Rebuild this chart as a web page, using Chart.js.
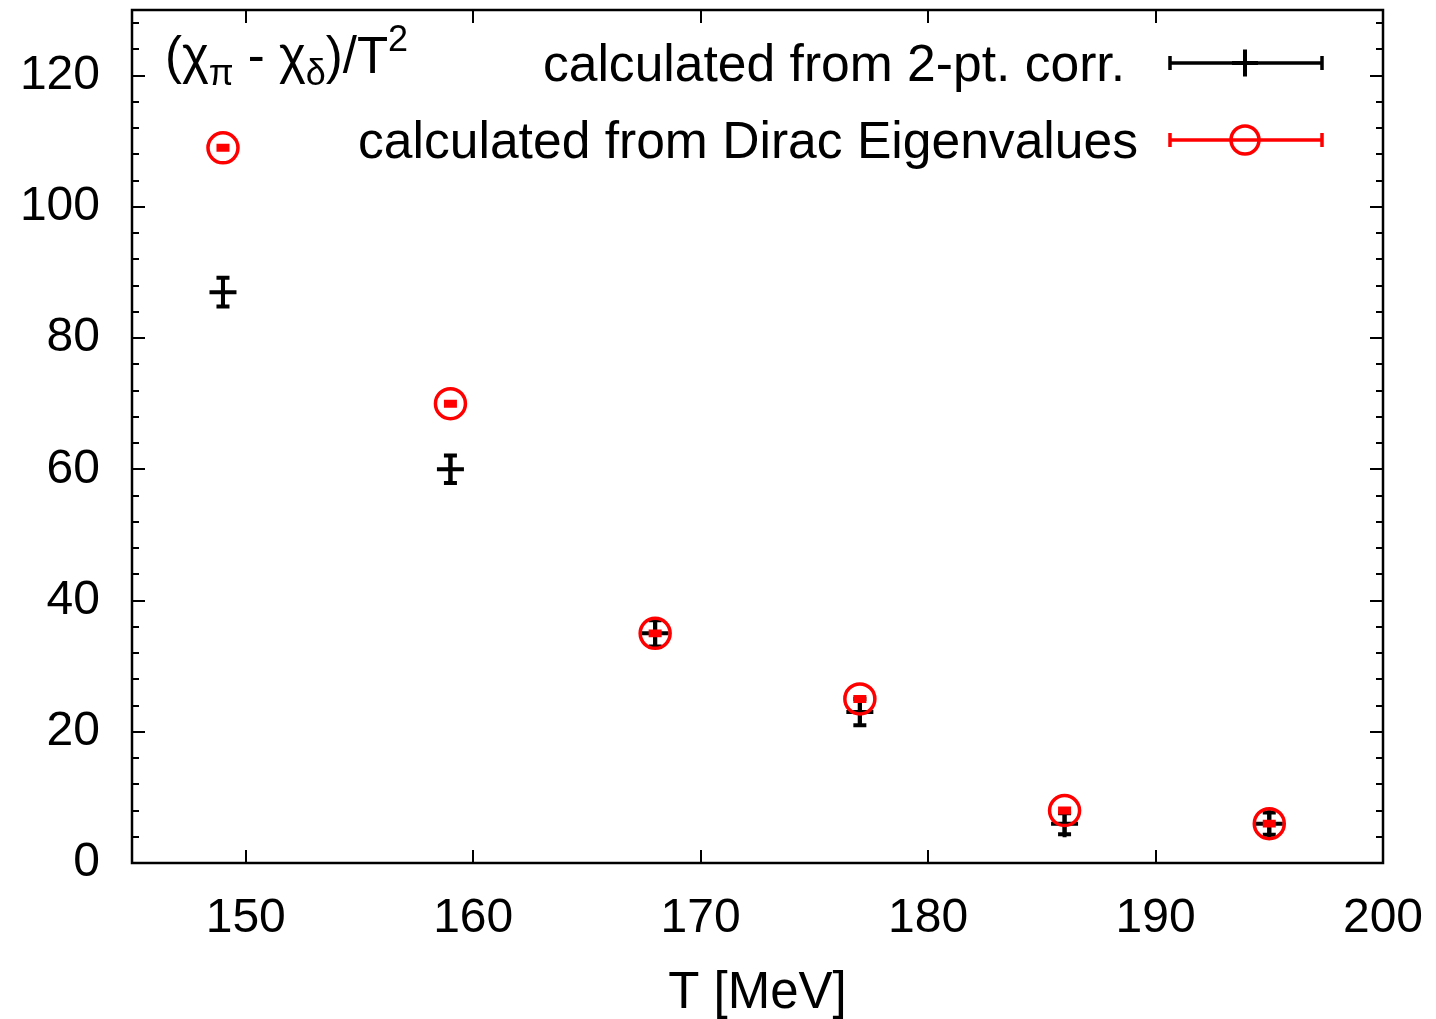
<!DOCTYPE html>
<html><head><meta charset="utf-8">
<script src="https://cdn.jsdelivr.net/npm/chart.js@4/dist/chart.umd.min.js"></script>
<style>html,body{margin:0;padding:0;background:#fff;overflow:hidden}#wrap{width:1436px;height:1019px;position:relative}</style>
</head><body><div id="wrap"><canvas id="c" width="1436" height="1019"></canvas></div>
<script>
const temperatures = [149, 159, 168, 177, 186, 195];
const corrValues = [87, 60, 35, 23, 6, 6];
const corrErrors = [2.2, 2.1, 2.0, 2.0, 1.6, 1.7];
const diracValues = [109, 70, 35, 25, 8, 6];
const diracErrors = [0.3, 0.3, 0.3, 0.3, 0.3, 0.3];
const xTicks = [150, 160, 170, 180, 190, 200];
const yTicks = [0, 20, 40, 60, 80, 100, 120];
const seriesLabels = ['calculated from 2-pt. corr.', 'calculated from Dirac Eigenvalues'];
const xTitle = 'T [MeV]';

const FONT = '"Liberation Sans", Arial, Helvetica, sans-serif';
const RED = '#ff0000';
const BLACK = '#000000';

const corrPts = temperatures.map((t, i) => ({x: t, y: corrValues[i], e: corrErrors[i]}));
const diracPts = temperatures.map((t, i) => ({x: t, y: diracValues[i], e: diracErrors[i]}));

const decor = {
  id: 'decor',
  afterDatasetDraw(chart, args) {
    const ctx = chart.ctx, xs = chart.scales.x, ys = chart.scales.y;
    const ds = chart.data.datasets[args.index];
    ctx.save();
    ctx.strokeStyle = ds.borderColor;
    ctx.lineWidth = ds.errWidth;
    ctx.lineCap = 'butt';
    ds.data.forEach(p => {
      const px = xs.getPixelForValue(p.x);
      const pt = ys.getPixelForValue(p.y + p.e);
      const pb = ys.getPixelForValue(p.y - p.e);
      ctx.beginPath();
      ctx.moveTo(px, pt); ctx.lineTo(px, pb);
      ctx.moveTo(px - 6.5, pt); ctx.lineTo(px + 6.5, pt);
      ctx.moveTo(px - 6.5, pb); ctx.lineTo(px + 6.5, pb);
      ctx.stroke();
    });
    ctx.restore();
  },
  afterDraw(chart) {
    const ctx = chart.ctx, a = chart.chartArea, xs = chart.scales.x, ys = chart.scales.y;
    ctx.save();
    ctx.strokeStyle = BLACK;
    ctx.lineWidth = 2;
    ctx.beginPath();
    for (let v = 0; v <= 130; v += 4) {
      const py = Math.round(ys.getPixelForValue(v));
      const len = (v % 20 === 0) ? 13 : 7;
      ctx.moveTo(a.left, py); ctx.lineTo(a.left + len, py);
      ctx.moveTo(a.right, py); ctx.lineTo(a.right - len, py);
    }
    xTicks.forEach(v => {
      const px = Math.round(xs.getPixelForValue(v));
      ctx.moveTo(px, a.bottom); ctx.lineTo(px, a.bottom - 13);
      ctx.moveTo(px, a.top); ctx.lineTo(px, a.top + 13);
    });
    ctx.stroke();
    ctx.lineWidth = 2.5;
    ctx.strokeRect(a.left, a.top, a.right - a.left, a.bottom - a.top);

    const mainF = '51px ' + FONT, subF = '36px ' + FONT;
    let x = 165; const base = 73;
    const parts = [
      ['(χ', mainF, 0], ['π', subF, 12], [' - χ', mainF, 0], ['δ', subF, 12],
      [')/T', mainF, 0], ['2', subF, -22]
    ];
    ctx.fillStyle = BLACK;
    ctx.textBaseline = 'alphabetic';
    ctx.textAlign = 'left';
    parts.forEach(([t, f, dy]) => {
      ctx.font = f;
      ctx.fillText(t, x, base + dy);
      x += ctx.measureText(t).width;
    });

    ctx.font = '51.6px ' + FONT;
    ctx.textAlign = 'right';
    const rows = [
      {y: 63, color: BLACK, tx: 1125, label: seriesLabels[0], marker: 'cross'},
      {y: 140, color: RED, tx: 1138, label: seriesLabels[1], marker: 'circle'}
    ];
    rows.forEach(r => {
      ctx.fillStyle = BLACK;
      ctx.fillText(r.label, r.tx, r.y + 18);
      ctx.strokeStyle = r.color;
      ctx.lineWidth = 3.5;
      ctx.beginPath();
      ctx.moveTo(1170, r.y); ctx.lineTo(1322, r.y);
      ctx.moveTo(1170, r.y - 7); ctx.lineTo(1170, r.y + 7);
      ctx.moveTo(1322, r.y - 7); ctx.lineTo(1322, r.y + 7);
      ctx.stroke();
      if (r.marker === 'cross') {
        ctx.lineWidth = 4;
        ctx.beginPath();
        ctx.moveTo(1245, r.y - 13.5); ctx.lineTo(1245, r.y + 13.5);
        ctx.moveTo(1232, r.y); ctx.lineTo(1258, r.y);
        ctx.stroke();
      } else {
        ctx.beginPath();
        ctx.arc(1245, r.y, 14, 0, Math.PI * 2);
        ctx.stroke();
      }
    });
    ctx.restore();
  }
};

function zeroPad(s) { s.paddingTop = 0; s.paddingBottom = 0; s.paddingLeft = 0; s.paddingRight = 0; }

new Chart(document.getElementById('c'), {
  type: 'scatter',
  data: {
    datasets: [
      {label: seriesLabels[1], data: diracPts, order: 1, pointStyle: 'circle', pointRadius: 15,
       pointHoverRadius: 15, borderColor: RED, backgroundColor: 'rgba(0,0,0,0)', borderWidth: 3.5,
       pointBorderWidth: 3.5, errWidth: 4, showLine: false},
      {label: seriesLabels[0], data: corrPts, order: 2, pointStyle: 'cross', pointRadius: 13.5,
       pointHoverRadius: 13.5, borderColor: BLACK, backgroundColor: BLACK, borderWidth: 4,
       pointBorderWidth: 4, errWidth: 4, showLine: false}
    ]
  },
  options: {
    responsive: false,
    animation: false,
    devicePixelRatio: 1,
    layout: {autoPadding: false, padding: {top: 10, right: 53, left: 0, bottom: 0}},
    plugins: {legend: {display: false}, tooltip: {enabled: false}},
    scales: {
      x: {
        type: 'linear', min: 145, max: 200,
        grid: {display: false, drawTicks: false},
        border: {display: false},
        afterBuildTicks: s => { s.ticks = xTicks.map(v => ({value: v})); },
        afterFit: s => { s.height = 156; zeroPad(s); },
        ticks: {color: BLACK, font: {family: FONT, size: 48}, padding: 27, maxRotation: 0, autoSkip: false},
        title: {display: true, text: xTitle, color: BLACK, font: {family: FONT, size: 51, lineHeight: 1}, padding: {top: 0, bottom: 0}}
      },
      y: {
        type: 'linear', min: 0, max: 130,
        grid: {display: false, drawTicks: false},
        border: {display: false},
        afterBuildTicks: s => { s.ticks = yTicks.map(v => ({value: v})); },
        afterFit: s => { s.width = 132; zeroPad(s); },
        ticks: {color: BLACK, font: {family: FONT, size: 48}, padding: 32, autoSkip: false}
      }
    }
  },
  plugins: [decor]
});
</script>
</body></html>
